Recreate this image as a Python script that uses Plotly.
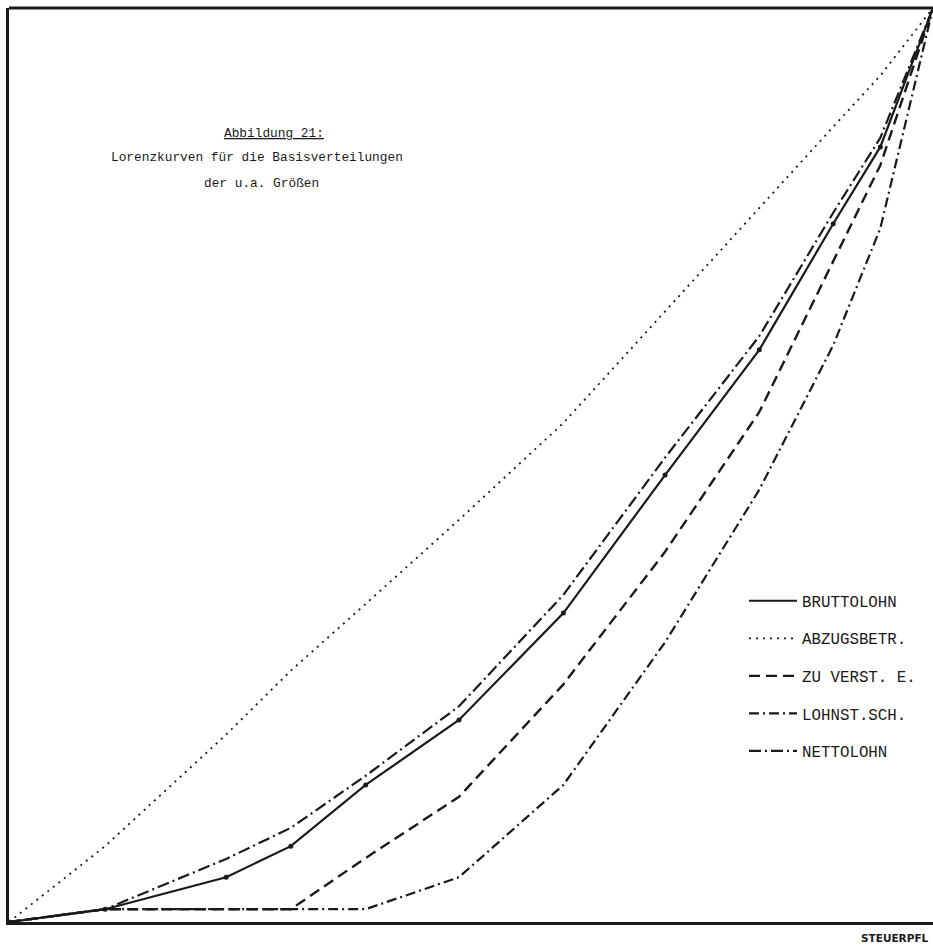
import plotly.graph_objects as go

# Cumulative share of tax payers (x) and cumulative shares of the quantities (y)
x_share = [0, 0.104, 0.235, 0.305, 0.386, 0.487, 0.600, 0.710, 0.812, 0.892, 0.943, 1.0]
bruttolohn = [0, 0.014, 0.049, 0.083, 0.150, 0.221, 0.338, 0.489, 0.626, 0.764, 0.848, 1.0]
abzugsbetr = [0, 0.083, 0.205, 0.275, 0.348, 0.440, 0.546, 0.668, 0.782, 0.870, 0.926, 1.0]
zu_verst_e = [0, 0.014, 0.014, 0.014, 0.070, 0.137, 0.260, 0.405, 0.558, 0.722, 0.828, 1.0]
lohnst_sch = [0, 0.014, 0.014, 0.014, 0.014, 0.049, 0.150, 0.306, 0.473, 0.631, 0.759, 1.0]
nettolohn = [0, 0.014, 0.069, 0.103, 0.160, 0.236, 0.358, 0.508, 0.641, 0.776, 0.858, 1.0]

series_names = ["BRUTTOLOHN", "ABZUGSBETR.", "ZU VERST. E.", "LOHNST.SCH.", "NETTOLOHN"]

INK = "#1a1a1a"
W, H = 933, 949
ML, MR, MT, MB = 9, 0, 8, 27
PW, PH = W - ML - MR, H - MT - MB


def px_x(p):
    return (p - ML) / PW


def px_y(p):
    return (H - MB - p) / PH


fig = go.Figure()
styles = [
    dict(dash="solid", width=2.2),
    dict(dash="2px,5px", width=1.8),
    dict(dash="11px,6px", width=2.4),
    dict(dash="10px,4px,2px,4px", width=2.2),
    dict(dash="12px,4px,2px,4px", width=2.2),
]
data = [bruttolohn, abzugsbetr, zu_verst_e, lohnst_sch, nettolohn]
for i, (name, ys, st) in enumerate(zip(series_names, data, styles)):
    fig.add_trace(go.Scatter(
        x=x_share, y=ys, name=name, mode="lines",
        line=dict(color=INK, width=st["width"], dash=st["dash"]),
        legendgroup=name, hoverinfo="skip",
    ))
    if i == 0:
        fig.add_trace(go.Scatter(
            x=x_share, y=ys, name=name, mode="markers",
            marker=dict(size=5, color=INK), legendgroup=name,
            showlegend=False, hoverinfo="skip",
        ))

mono = "Liberation Mono, Courier New, monospace"

annotations = [
    dict(text="<u>Abbildung 21:</u>", x=px_x(222), y=px_y(133), xanchor="left", yanchor="middle"),
    dict(text="Lorenzkurven für die Basisverteilungen", x=px_x(109), y=px_y(158), xanchor="left", yanchor="middle"),
    dict(text="der u.a. Größen", x=px_x(202), y=px_y(183), xanchor="left", yanchor="middle"),
]
for a in annotations:
    a.update(xref="paper", yref="paper", showarrow=False, font=dict(family=mono, size=12.8, color=INK))

annotations.append(dict(text="<b>STEUERPFL</b>", x=px_x(931), y=px_y(938), xref="paper", yref="paper",
                        xanchor="right", yanchor="middle", showarrow=False,
                        font=dict(family="DejaVu Sans, sans-serif", size=10.5, color=INK)))

fig.update_layout(
    width=W, height=H,
    margin=dict(l=ML, r=MR, t=MT, b=MB, pad=0),
    paper_bgcolor="white", plot_bgcolor="white",
    xaxis=dict(range=[0, 1], showgrid=False, zeroline=False, showticklabels=False, ticks="",
               showline=True, linecolor=INK, linewidth=3, fixedrange=True),
    yaxis=dict(range=[0, 1], showgrid=False, zeroline=False, showticklabels=False, ticks="",
               showline=True, linecolor=INK, linewidth=3, fixedrange=True),
    showlegend=True,
    legend=dict(x=px_x(744), y=px_y(584), xanchor="left", yanchor="top",
                font=dict(family=mono, size=15.8, color=INK), itemwidth=48,
                tracegroupgap=14, bgcolor="rgba(0,0,0,0)", traceorder="grouped"),
    annotations=annotations,
    shapes=[dict(type="line", xref="paper", yref="paper", x0=0, x1=1, y0=1, y1=1,
                 line=dict(color=INK, width=3))],
)

fig.write_html("out.html", config={"displayModeBar": False},
               post_script="document.body.style.margin='0';document.body.style.overflow='hidden';")
